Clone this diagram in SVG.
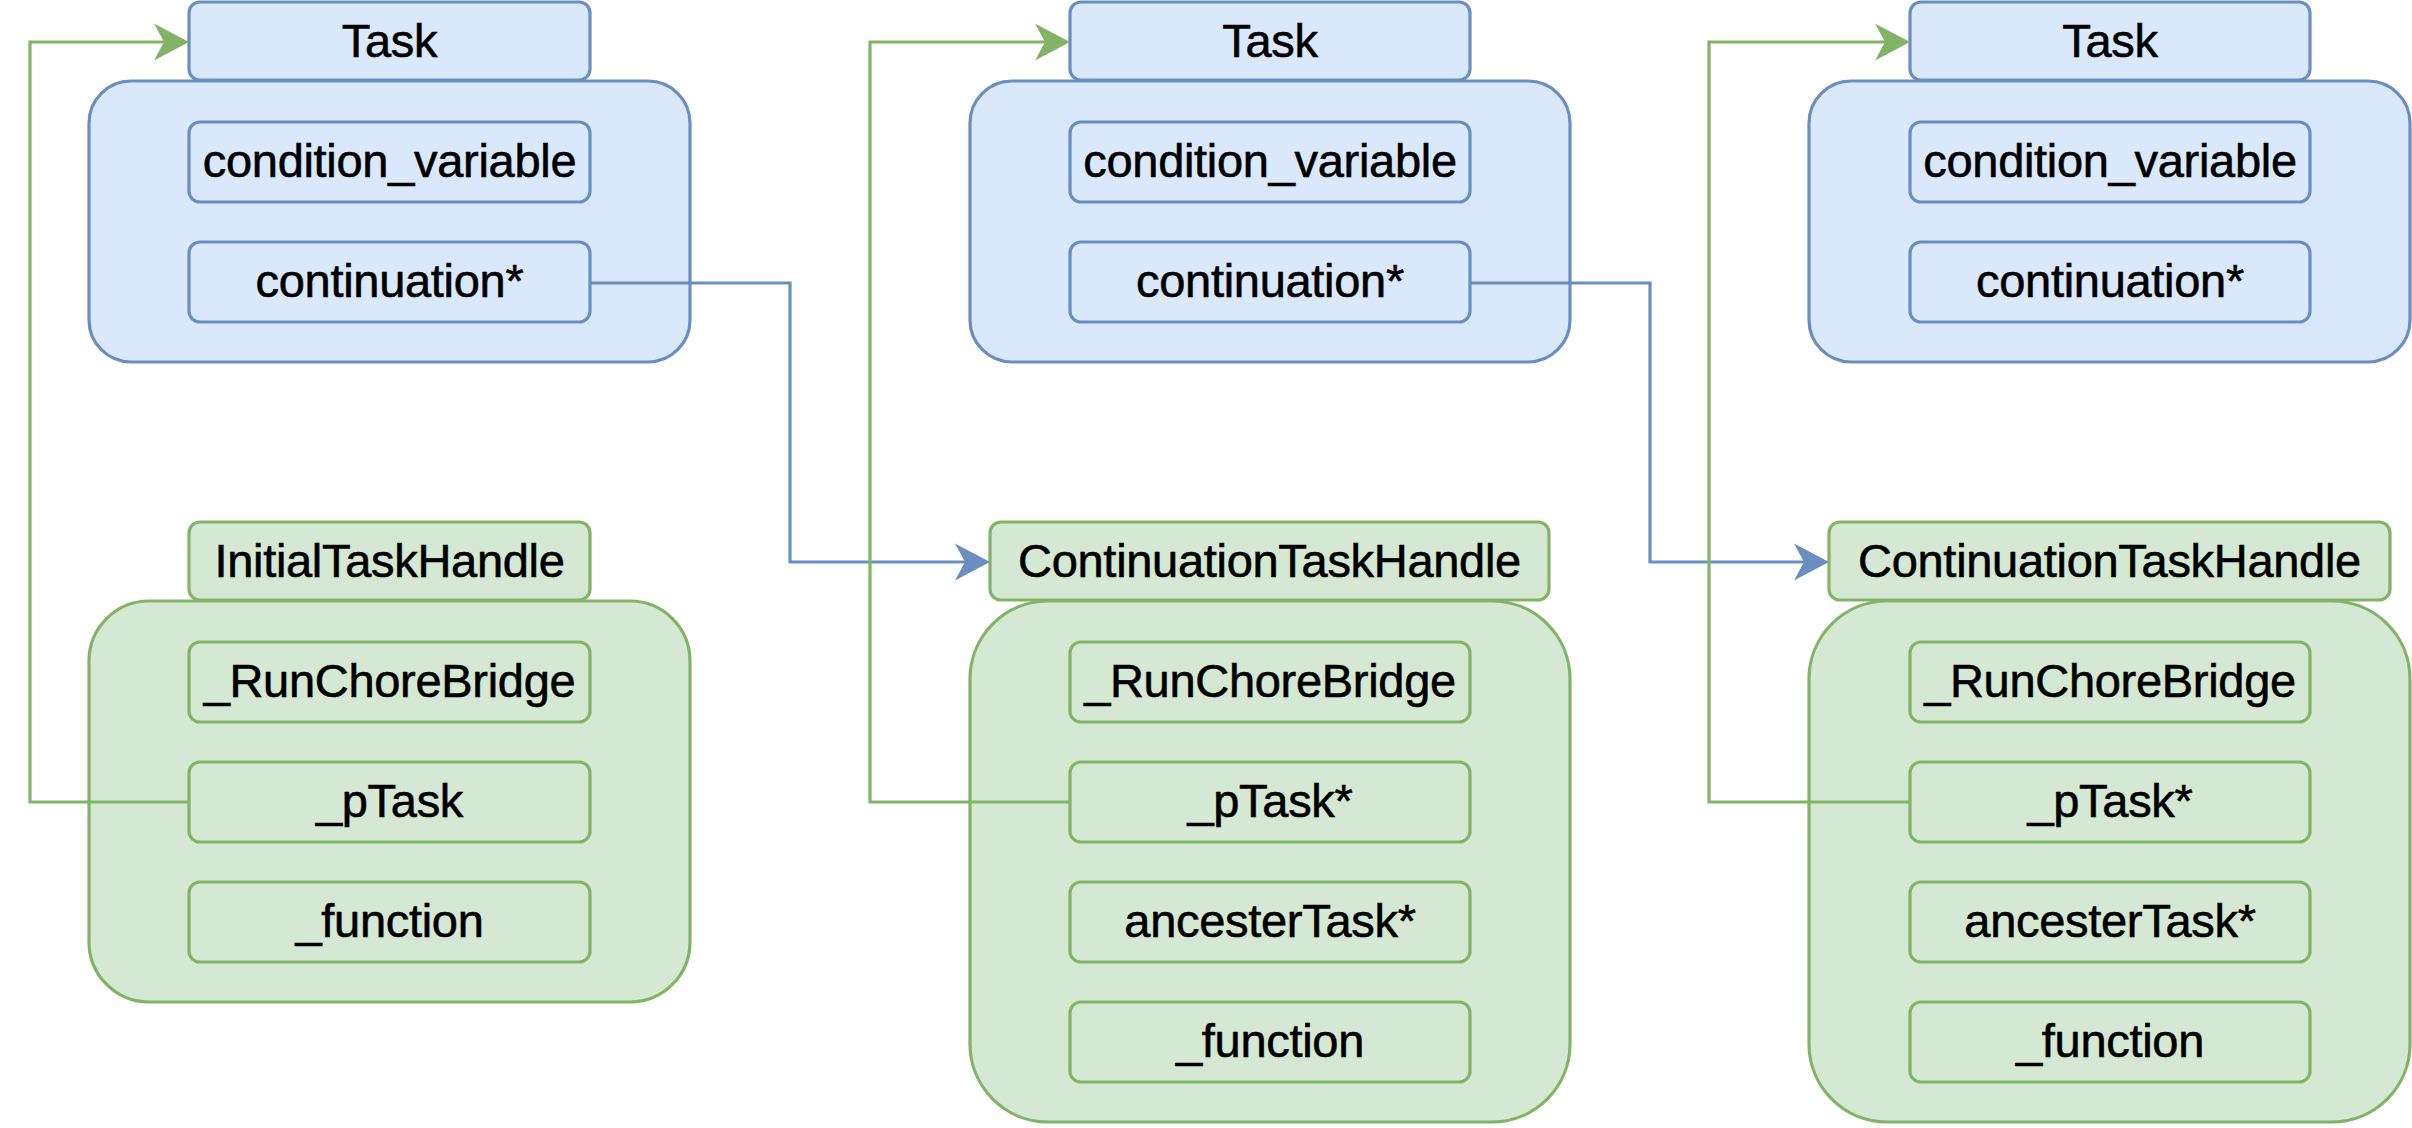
<svg xmlns="http://www.w3.org/2000/svg" width="2412" height="1128" viewBox="0 0 2412 1128">
<style>
.b{fill:#dae8fc;stroke:#6c8ebf;stroke-width:3.2}
.g{fill:#d5e8d4;stroke:#82b366;stroke-width:3.2}
.t{font-family:"Liberation Sans",Arial,Helvetica,sans-serif;font-size:47px;fill:#000;stroke:#000;stroke-width:0.6;text-anchor:middle;letter-spacing:-0.3px}
.cb{fill:none;stroke:#6c8ebf;stroke-width:3.2}
.cg{fill:none;stroke:#82b366;stroke-width:3.2}
</style>
<defs>
<marker id="ab" viewBox="-37 -20 38 40" refX="-25" refY="0" markerWidth="38" markerHeight="40" markerUnits="userSpaceOnUse" orient="auto">
<path d="M0,0 L-35,-18.5 L-25,0 L-35,18.5 Z" fill="#6c8ebf"/>
</marker>
<marker id="ag" viewBox="-37 -20 38 40" refX="-25" refY="0" markerWidth="38" markerHeight="40" markerUnits="userSpaceOnUse" orient="auto">
<path d="M0,0 L-35,-18.5 L-25,0 L-35,18.5 Z" fill="#82b366"/>
</marker>
</defs>
<rect width="2412" height="1128" fill="#ffffff"/>

<g id="task1">
<rect class="b" x="89" y="81" width="601" height="281" rx="42"/>
<rect class="b" x="189" y="2" width="401" height="78" rx="11"/>
<text class="t" x="389.5" y="57">Task</text>
<rect class="b" x="189" y="122" width="401" height="80" rx="11"/>
<text class="t" x="389.5" y="177">condition_variable</text>
<rect class="b" x="189" y="242" width="401" height="80" rx="11"/>
<text class="t" x="389.5" y="297">continuation*</text>
</g>

<g id="initialTaskHandle">
<rect class="g" x="89" y="601" width="601" height="401" rx="60"/>
<rect class="g" x="189" y="522" width="401" height="78" rx="11"/>
<text class="t" x="389.5" y="577">InitialTaskHandle</text>
<rect class="g" x="189" y="642" width="401" height="80" rx="11"/>
<text class="t" x="389.5" y="697">_RunChoreBridge</text>
<rect class="g" x="189" y="762" width="401" height="80" rx="11"/>
<text class="t" x="389.5" y="817">_pTask</text>
<rect class="g" x="189" y="882" width="401" height="80" rx="11"/>
<text class="t" x="389.5" y="937">_function</text>
</g>

<g id="task2">
<rect class="b" x="970" y="81" width="600" height="281" rx="42"/>
<rect class="b" x="1070" y="2" width="400" height="78" rx="11"/>
<text class="t" x="1270" y="57">Task</text>
<rect class="b" x="1070" y="122" width="400" height="80" rx="11"/>
<text class="t" x="1270" y="177">condition_variable</text>
<rect class="b" x="1070" y="242" width="400" height="80" rx="11"/>
<text class="t" x="1270" y="297">continuation*</text>
</g>

<g id="continuationTaskHandle1">
<rect class="g" x="970" y="601" width="600" height="521" rx="78"/>
<rect class="g" x="990" y="522" width="559" height="78" rx="11"/>
<text class="t" x="1269.5" y="577">ContinuationTaskHandle</text>
<rect class="g" x="1070" y="642" width="400" height="80" rx="11"/>
<text class="t" x="1270" y="697">_RunChoreBridge</text>
<rect class="g" x="1070" y="762" width="400" height="80" rx="11"/>
<text class="t" x="1270" y="817">_pTask*</text>
<rect class="g" x="1070" y="882" width="400" height="80" rx="11"/>
<text class="t" x="1270" y="937">ancesterTask*</text>
<rect class="g" x="1070" y="1002" width="400" height="80" rx="11"/>
<text class="t" x="1270" y="1057">_function</text>
</g>

<g id="task3">
<rect class="b" x="1809" y="81" width="601" height="281" rx="42"/>
<rect class="b" x="1910" y="2" width="400" height="78" rx="11"/>
<text class="t" x="2110" y="57">Task</text>
<rect class="b" x="1910" y="122" width="400" height="80" rx="11"/>
<text class="t" x="2110" y="177">condition_variable</text>
<rect class="b" x="1910" y="242" width="400" height="80" rx="11"/>
<text class="t" x="2110" y="297">continuation*</text>
</g>

<g id="continuationTaskHandle2">
<rect class="g" x="1809" y="601" width="601" height="521" rx="78"/>
<rect class="g" x="1829" y="522" width="561" height="78" rx="11"/>
<text class="t" x="2109.5" y="577">ContinuationTaskHandle</text>
<rect class="g" x="1910" y="642" width="400" height="80" rx="11"/>
<text class="t" x="2110" y="697">_RunChoreBridge</text>
<rect class="g" x="1910" y="762" width="400" height="80" rx="11"/>
<text class="t" x="2110" y="817">_pTask*</text>
<rect class="g" x="1910" y="882" width="400" height="80" rx="11"/>
<text class="t" x="2110" y="937">ancesterTask*</text>
<rect class="g" x="1910" y="1002" width="400" height="80" rx="11"/>
<text class="t" x="2110" y="1057">_function</text>
</g>

<g id="connectors">
<path class="cb" d="M590,283 L790,283 L790,562 L965,562" marker-end="url(#ab)"/>
<path class="cb" d="M1470,283 L1650,283 L1650,562 L1804,562" marker-end="url(#ab)"/>
<path class="cg" d="M189,802 L30,802 L30,42 L164,42" marker-end="url(#ag)"/>
<path class="cg" d="M1070,802 L870,802 L870,42 L1045,42" marker-end="url(#ag)"/>
<path class="cg" d="M1910,802 L1709,802 L1709,42 L1885,42" marker-end="url(#ag)"/>
</g>
</svg>
